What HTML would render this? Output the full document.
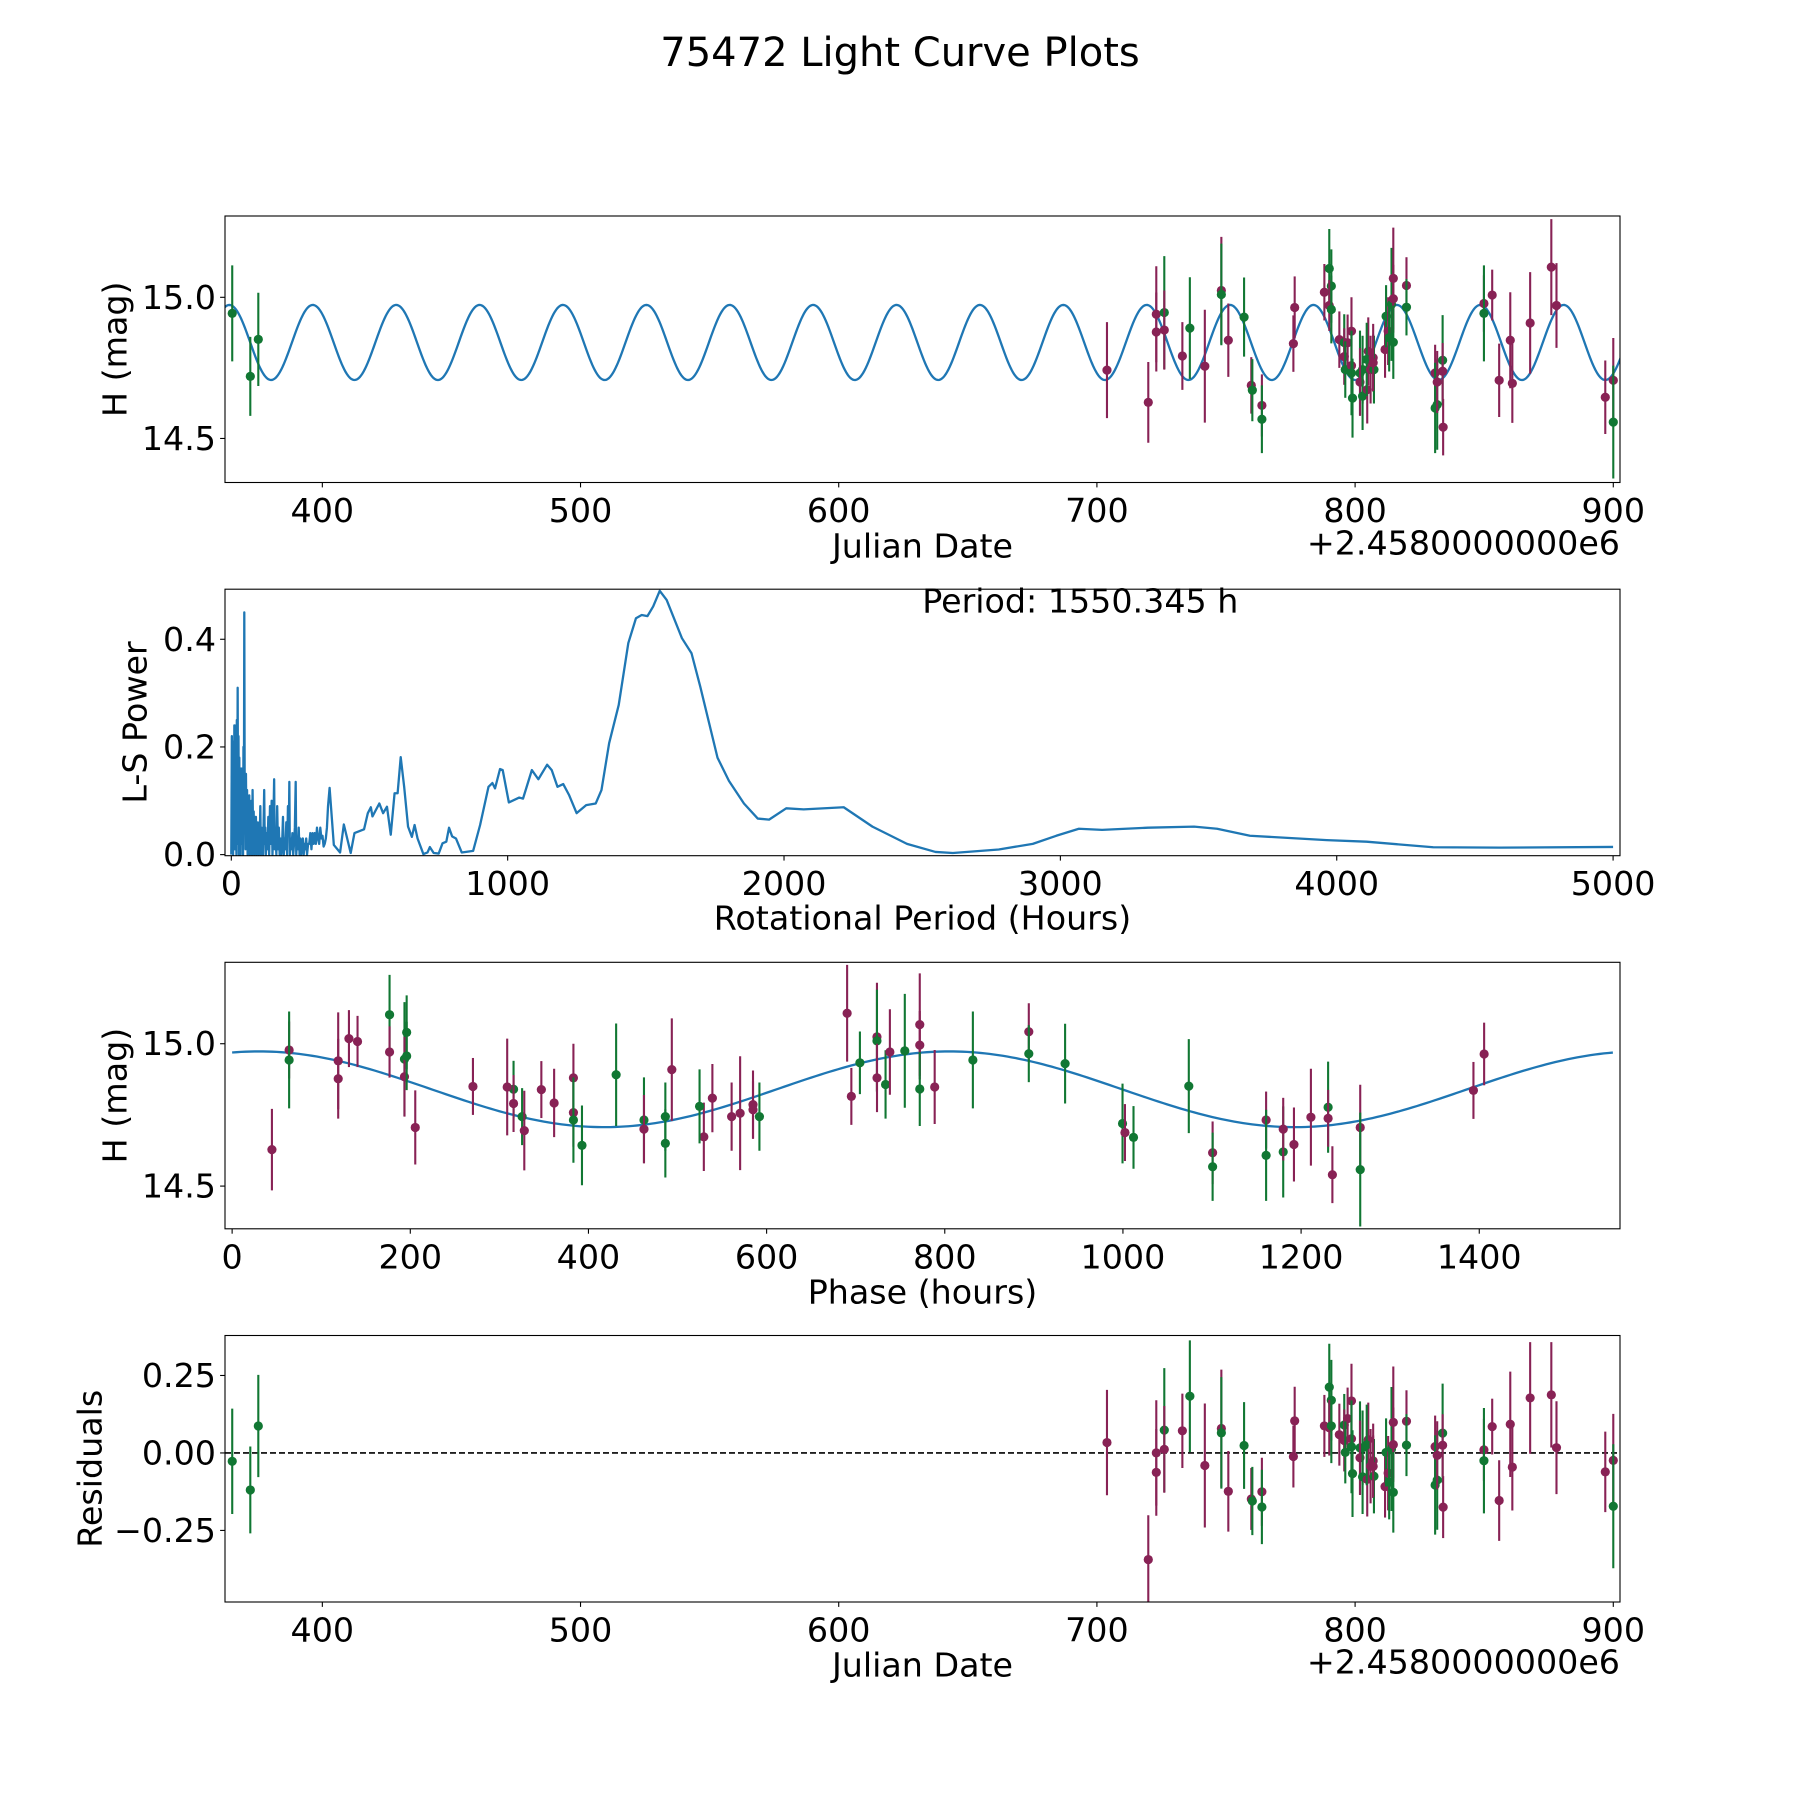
<!DOCTYPE html>
<html><head><meta charset="utf-8"><style>
html,body{margin:0;padding:0;background:#fff}
svg{display:block;font-family:"DejaVu Sans","Liberation Sans",sans-serif}
</style></head><body>
<svg id="fig" width="1800" height="1800" viewBox="0 0 1800 1800" xmlns="http://www.w3.org/2000/svg">
<rect x="0" y="0" width="1800" height="1800" fill="#fff"/>
<text x="900" y="53" font-size="40" text-anchor="middle" dominant-baseline="central">75472 Light Curve Plots</text>
</svg>
<script>
// ---- data ----
const obsJD = [365.1,372.1,375.2,703.9,719.9,723.0,723.0,726.1,726.1,733.1,736.0,741.8,748.2,748.2,750.9,757.0,759.8,760.2,763.9,763.9,776.6,776.1,788.1,790.0,790.8,790.0,790.8,793.9,795.8,797.1,795.8,796.2,798.6,798.6,798.6,799.0,801.9,802.9,801.9,802.9,804.7,805.1,804.5,806.0,807.0,807.3,807.0,811.6,812.0,812.8,813.2,814.1,814.8,814.8,814.8,819.9,819.9,831.0,831.0,831.8,831.8,833.9,833.9,834.1,849.9,849.9,853.1,855.8,860.1,860.9,867.8,876.0,878.0,896.9,900.0,900.0];
const obsMag = [14.943,14.72,14.851,14.742,14.628,14.94,14.877,14.946,14.884,14.792,14.891,14.756,15.024,15.01,14.848,14.93,14.688,14.671,14.617,14.568,14.964,14.836,15.018,15.102,15.04,14.971,14.957,14.85,14.84,14.839,14.79,14.744,14.88,14.758,14.732,14.643,14.732,14.744,14.70,14.65,14.673,14.809,14.78,14.744,14.786,14.744,14.768,14.815,14.933,14.88,14.857,14.975,15.067,14.995,14.841,15.042,14.965,14.732,14.608,14.62,14.70,14.777,14.738,14.54,14.978,14.943,15.008,14.706,14.848,14.695,14.909,15.107,14.971,14.646,14.706,14.558];
const obsErr = [0.17,0.14,0.165,0.17,0.143,0.17,0.14,0.2,0.14,0.12,0.18,0.2,0.19,0.18,0.13,0.14,0.1,0.11,0.11,0.12,0.11,0.1,0.1,0.14,0.13,0.09,0.12,0.1,0.1,0.1,0.1,0.1,0.12,0.12,0.15,0.14,0.15,0.12,0.12,0.12,0.12,0.12,0.13,0.12,0.12,0.12,0.1,0.1,0.11,0.12,0.12,0.2,0.18,0.12,0.13,0.1,0.1,0.1,0.16,0.16,0.11,0.16,0.1,0.1,0.1,0.17,0.09,0.13,0.17,0.14,0.18,0.17,0.15,0.13,0.15,0.2];
const obsBand = ['g','g','g','m','m','m','m','g','m','m','g','m','m','g','m','g','m','g','m','g','m','m','m','g','g','m','g','m','g','m','m','g','m','m','g','g','g','g','m','g','m','m','g','m','m','g','m','m','g','m','g','g','m','m','g','m','g','m','g','g','m','g','m','m','m','g','m','m','m','m','m','m','m','m','m','g'];
// model parameters
const periodHours = 1550.345;
const modelMean = 14.84;
const modelAmp = 0.133;
const modelPeakJD = 396.3;
const phasePeak = 30;
// periodogram
const lsPeriod = [0,2,3.5,5,6.5,8,9.5,11,12.5,14,15.5,17,18.5,20,21.5,23,24.5,26,27.5,29,30.5,32,33.5,35,36.5,38,39.5,41,42.5,44,45.5,47,48.5,50,51.5,53,55,57,59,61,63,65,67,69,71,73,75,77,79,81,83,85,87,89,91,93,95,97,99,101,103,105,107,109,111,113,115,117,119,121,123,125,128,131,134,137,140,143,146,149,152,155,157,160,163,166,169,172,175,178,181,184,187,190,193,196,199,202,205,208,210,212,215,218,221,224,227,230,233,235,238,241,244,247,250,253,256,259,262,265,268,271,274,278,282,286,290,294,298,302,306,310,314,318,322,326,330,334,338,342,346,350,355.7,371,393.6,407.2,432,445.7,480.3,494,505,510.8,535.6,549.4,563.3,577,590.8,601.8,613,625.5,639.6,653.4,663.2,674,695,710,718.5,732.3,750.4,764.3,778,787.9,799,812.9,833.8,875.2,900.3,930.7,944.7,954.3,972.4,982.1,1004.3,1041.8,1055.6,1087.5,1111.1,1142.9,1159.5,1180.2,1201.1,1221.9,1249.6,1284.2,1318.7,1339.5,1367.2,1401.9,1436.6,1464.3,1485,1505.8,1526.6,1550.3,1575.3,1630.6,1665.3,1697,1759.4,1800.7,1855,1905,1946,2008,2071,2216,2320,2445,2548,2611,2777,2900,2985,3067,3151,3317,3484,3567,3686,3964,4108,4349,4590,5000];
const lsPower = [0,0.22,0.02,0.21,0,0.18,0.03,0.24,0.01,0.2,0.05,0.24,0,0.25,0.02,0.31,0.04,0.22,0,0.18,0.03,0.14,0,0.16,0.05,0.16,0.02,0.12,0,0.2,0.05,0.45,0.1,0.14,0.01,0.15,0.03,0.12,0,0.1,0.04,0.11,0,0.09,0.03,0.1,0,0.12,0.02,0.08,0,0.07,0.03,0.07,0,0.06,0.02,0.05,0,0.06,0.03,0.09,0,0.05,0.01,0.04,0,0.06,0.12,0.02,0.05,0,0.04,0.01,0.07,0,0.09,0.02,0.1,0,0.05,0.14,0.01,0.04,0,0.09,0.01,0.05,0,0.03,0,0.02,0.07,0,0.03,0.01,0.06,0,0.09,0.04,0.135,0,0.03,0.01,0.04,0,0.02,0.05,0.135,0,0.03,0.01,0.05,0,0.03,0,0.02,0.03,0,0.02,0.01,0.03,0,0.02,0.02,0.04,0.01,0.04,0.02,0.04,0.02,0.05,0.03,0.02,0.05,0.03,0.035,0.015,0.02,0.03,0.05,0.09,0.124,0.018,0.004,0.056,0.003,0.04,0.047,0.077,0.088,0.071,0.095,0.077,0.089,0.037,0.114,0.114,0.181,0.126,0.052,0.033,0.055,0.03,0.001,0.004,0.014,0.003,0.002,0.021,0.024,0.05,0.034,0.03,0.004,0.007,0.055,0.126,0.133,0.123,0.159,0.157,0.097,0.106,0.104,0.157,0.14,0.167,0.157,0.126,0.131,0.111,0.077,0.092,0.095,0.12,0.207,0.278,0.393,0.439,0.445,0.443,0.461,0.49,0.473,0.402,0.374,0.312,0.18,0.137,0.095,0.067,0.065,0.086,0.084,0.088,0.052,0.02,0.005,0.003,0.0095,0.02,0.035,0.048,0.046,0.05,0.052,0.048,0.035,0.027,0.024,0.0137,0.013,0.0143];
const jdTicks = [400,500,600,700,800,900];
const magTicks = [14.5,15.0];
const magTickLabels = ['14.5','15.0'];
const lsXTicks = [0,1000,2000,3000,4000,5000];
const lsYTicks = [0,0.2,0.4];
const lsYTickLabels = ['0.0','0.2','0.4'];
const phaseTicks = [0,200,400,600,800,1000,1200,1400];
const resTicks = [-0.25,0,0.25];
const resTickLabels = ['\u22120.25','0.00','0.25'];

// ---- drawing ----
const NS='http://www.w3.org/2000/svg';
const svg=document.getElementById('fig');
const COL={g:'#117733',m:'#882255'};
const BLUE='#1f77b4';
const FS=33.3;
function mk(tag,attrs,parent){const e=document.createElementNS(NS,tag);for(const k in attrs)e.setAttribute(k,attrs[k]);(parent||svg).appendChild(e);return e;}
function lin(d0,d1,p0,p1){return v=>p0+(v-d0)*(p1-p0)/(d1-d0);}
function model(jd){return modelMean+modelAmp*Math.cos(2*Math.PI*(jd-modelPeakJD)*24/(periodHours/2));}
function phaseOf(jd){const t0=modelPeakJD-phasePeak/24;let p=((jd-t0)*24)%periodHours;if(p<0)p+=periodHours;return p;}
function phaseModel(p){return modelMean+modelAmp*Math.cos(2*Math.PI*(p-phasePeak)/(periodHours/2));}

const L=225,R=1620;
function makeAxes(name,top,bottom,xd,yd){
  const g=mk('g',{});
  
  
  const cp=mk('clipPath',{id:'clip-'+name},g);
  mk('rect',{x:L,y:top,width:R-L,height:bottom-top},cp);
  const plot=mk('g',{'clip-path':'url(#clip-'+name+')'},g);
  
  
  return {g,plot,top,bottom,x:lin(xd[0],xd[1],L,R),y:lin(yd[0],yd[1],bottom,top)};
}
function frame(ax,xt,xl,yt,yl,xlabel,ylabel,ylabelX,xlabelY){
  const f=mk('rect',{x:L,y:ax.top,width:R-L,height:ax.bottom-ax.top,fill:'none',stroke:'#000','stroke-width':1.1},ax.g);
  
  
  xt.forEach((v,i)=>{const px=ax.x(v);
    mk('line',{x1:px,x2:px,y1:ax.bottom,y2:ax.bottom+4.9,stroke:'#000','stroke-width':1.1},ax.g);
    const t=mk('text',{x:px,y:ax.bottom+28,'font-size':FS,'text-anchor':'middle','dominant-baseline':'central'},ax.g);
    t.textContent=xl[i];
    
    });
  yt.forEach((v,i)=>{const py=ax.y(v);
    mk('line',{x1:L-4.9,x2:L,y1:py,y2:py,stroke:'#000','stroke-width':1.1},ax.g);
    const t=mk('text',{x:L-9,y:py,'font-size':FS,'text-anchor':'end','dominant-baseline':'central'},ax.g);
    t.textContent=yl[i];
    
    });
  const xlab=mk('text',{x:(L+R)/2,y:xlabelY,'font-size':FS,'text-anchor':'middle','dominant-baseline':'central'},ax.g);
  xlab.textContent=xlabel;
  
  
  const cy=(ax.top+ax.bottom)/2;
  const ylab=mk('text',{x:ylabelX,y:cy,'font-size':FS,'text-anchor':'middle','dominant-baseline':'central',transform:'rotate(-90 '+ylabelX+' '+cy+')'},ax.g);
  ylab.textContent=ylabel;
  
  
}
function offsetText(ax,y){
  const t=mk('text',{x:R,y:y,'font-size':FS,'text-anchor':'end','dominant-baseline':'central'},ax.g);
  t.textContent='+2.4580000000e6';
  
  
}
function pathFrom(xs,ys,ax){return xs.map((v,i)=>(i?'L':'M')+ax.x(v).toFixed(2)+' '+ax.y(ys[i]).toFixed(2)).join(' ');}
function errPoint(ax,xv,yv,e,c){
  const px=ax.x(xv),py=ax.y(yv);
  const l=mk('line',{x1:px,x2:px,y1:ax.y(yv-e),y2:ax.y(yv+e),stroke:COL[c],'stroke-width':2.1},ax.plot);
  
  
  const d=mk('circle',{cx:px,cy:py,r:4.6,fill:COL[c]},ax.plot);
  
  
}

// Panel 1: light curve
const a1=makeAxes('light-curve-panel',216,482.5,[362.3,902.6],[14.344,15.288]);
{const xs=[],ys=[];for(let j=362;j<=903;j+=0.5){xs.push(j);ys.push(model(j));}
 const p=mk('path',{d:pathFrom(xs,ys,a1),fill:'none',stroke:BLUE,'stroke-width':2.3},a1.plot);
 
 }
obsJD.forEach((j,i)=>errPoint(a1,j,obsMag[i],obsErr[i],obsBand[i]));
frame(a1,jdTicks,jdTicks.map(String),magTicks,magTickLabels,'Julian Date','H (mag)',115,546);
offsetText(a1,543);

// Panel 2: periodogram
const a2=makeAxes('periodogram-panel',589.2,855.7,[-22.8,5025],[-0.002,0.493]);
{const p=mk('path',{d:pathFrom(lsPeriod,lsPower,a2),fill:'none',stroke:BLUE,'stroke-width':2.3,'stroke-linejoin':'round'},a2.plot);
 
 }
frame(a2,lsXTicks,lsXTicks.map(String),lsYTicks,lsYTickLabels,'Rotational Period (Hours)','L-S Power',135,918);
{const t=mk('text',{x:a2.x(2500),y:a2.y(0.45),'font-size':FS},a2.g);
 t.textContent='Period: '+periodHours.toFixed(3)+' h';
 
 }

// Panel 3: phase-folded
const a3=makeAxes('phase-panel',962.3,1228.8,[-8,1558],[14.35,15.286]);
{const xs=[],ys=[];for(let p=0;p<=periodHours;p+=5){xs.push(p);ys.push(phaseModel(p));}
 const p=mk('path',{d:pathFrom(xs,ys,a3),fill:'none',stroke:BLUE,'stroke-width':2.3},a3.plot);
 
 }
obsJD.forEach((j,i)=>errPoint(a3,phaseOf(j),obsMag[i],obsErr[i],obsBand[i]));
frame(a3,phaseTicks,phaseTicks.map(String),magTicks,magTickLabels,'Phase (hours)','H (mag)',115,1292);

// Panel 4: residuals
const a4=makeAxes('residuals-panel',1335.5,1602,[362.3,902.6],[-0.481,0.379]);
{const z=mk('line',{x1:L,x2:R,y1:a4.y(0),y2:a4.y(0),stroke:'#000','stroke-width':1.6,'stroke-dasharray':'6 3'},a4.plot);
 
 }
obsJD.forEach((j,i)=>errPoint(a4,j,obsMag[i]-model(j),obsErr[i],obsBand[i]));
frame(a4,jdTicks,jdTicks.map(String),resTicks,resTickLabels,'Julian Date','Residuals',90,1665);
offsetText(a4,1662);
</script>
</body></html>
